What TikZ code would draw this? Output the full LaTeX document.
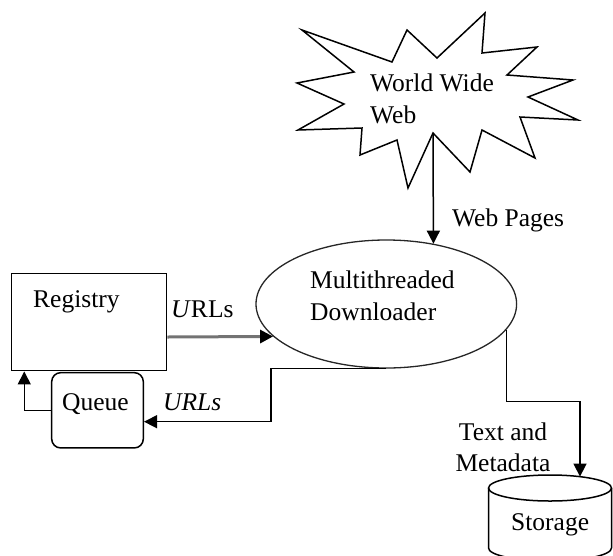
\documentclass[tikz,border=0pt]{standalone}
\usepackage{fontspec}
\setmainfont{Liberation Serif}
\usetikzlibrary{shapes.geometric,arrows.meta}

\begin{document}
\begin{tikzpicture}[x=1pt,y=-1pt,
    every node/.style={font=\fontsize{25.5}{31.5}\selectfont, inner sep=0pt},
    box/.style={draw, line width=1.5pt},
    arr/.style={line width=1.5pt, -{Triangle[length=13pt,width=13pt]}}]
    \useasboundingbox (0,0) rectangle (613,555);

    % Web burst
    \draw[line width=1.5pt, line join=miter] (302,30)
      \foreach \p in {(392,62),(407,30),(437,58),(485,13),(482,53),(537,47),
                      (507,75),(573,80),(528,97),(578,120),(520,117),(535,158),
                      (482,130),(470,172),(433,133),(408,188),(397,140),(360,155),
                      (362,128),(298,130),(344,104),(297,83),(354,72)} { -- \p } -- cycle;
    \coordinate (www tip) at (433,133);
    \node[anchor=base west, align=left] (www) at (370,123) {World Wide\\Web};

    \node[ellipse, draw=black!85, line width=1.3pt, minimum width=260.6pt,
          minimum height=128pt] (dl) at (386.3,304) {};
    \node[anchor=base west, align=left] (dltext) at (310,320) {Multithreaded\\Downloader};

    \node[box, minimum width=155pt, minimum height=97.4pt] (reg) at (89.2,322) {};
    \node[anchor=base west] (regtext) at (33,307) {Registry};

    \node[box, rounded corners=9pt, minimum width=91.6pt, minimum height=75.3pt] (q) at (97.5,410.3) {};
    \node[anchor=base west] (qtext) at (62,410) {Queue};

    % Storage drum
    \draw[line width=1.5pt] (488.5,488) -- (488.5,548)
      arc[start angle=180, end angle=0, x radius=61.5, y radius=13] -- (611.5,488);
    \draw[line width=1.5pt] (550,488) ellipse [x radius=61.5, y radius=13];
    \coordinate (stor in) at (580,476.6);
    \node[anchor=base west] (stor) at (511,530) {Storage};

    % Links
    \draw[arr] (www tip) -- (dl.52);
    \node[anchor=base west] (pages) at (452,226) {Web Pages};

    \draw[arr, draw=black!55, line width=3pt, -{Triangle[length=13pt,width=13pt,color=black]}]
      ([yshift=-15pt]reg.east) -- (dl.196.5);
    \node[anchor=base west] (urls1) at (171,317) {\textit{U}RLs};

    \draw[arr] (dl.south) -| (271,421.7) -- ([yshift=-11.4pt]q.east);
    \node[anchor=base west] (urls2) at (163,410) {\textit{URLs}};

    \draw[arr] (q.west) -| ([xshift=13.3pt]reg.south west);

    \draw[arr] (dl.348.5) |- (580,401.7) -- (stor in);
    \node[anchor=base, align=center] (meta) at (503,471.7) {Text and\\Metadata};

\end{tikzpicture}
\end{document}
